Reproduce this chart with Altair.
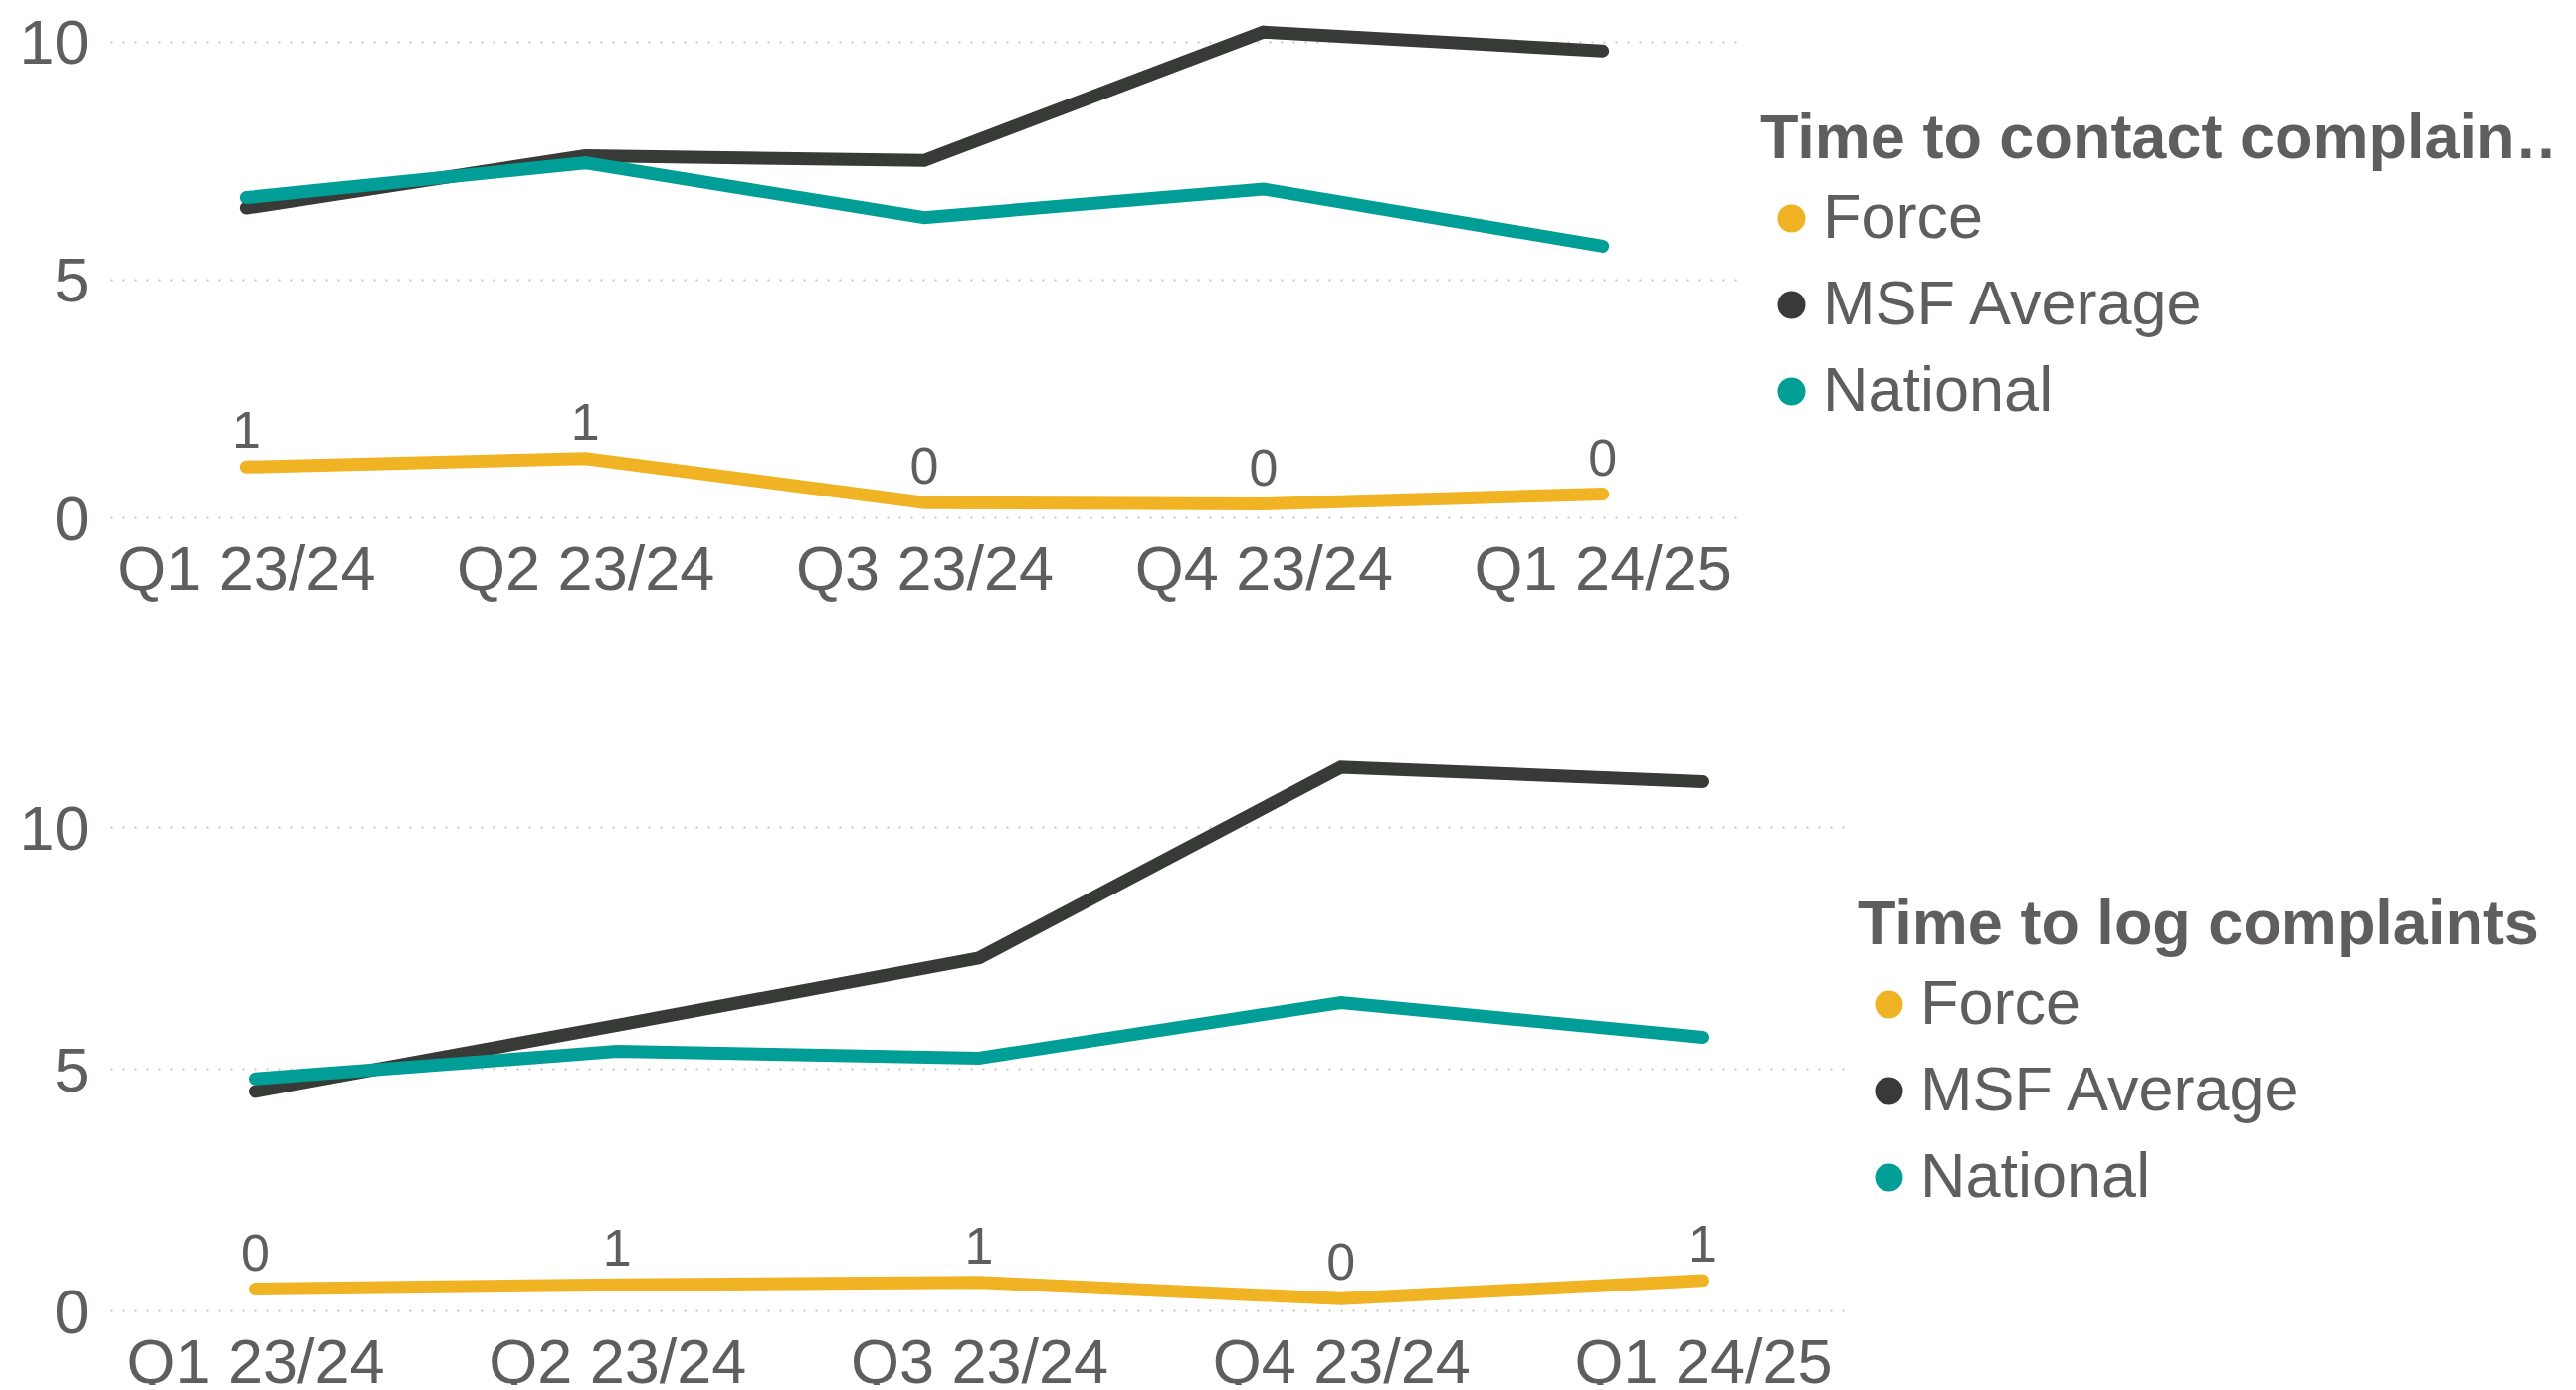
import altair as alt
import pandas as pd

FONT = "Liberation Sans"
GRAY = "#605E5C"

quarters = ["Q1 23/24", "Q2 23/24", "Q3 23/24", "Q4 23/24", "Q1 24/25"]
series_names = ["Force", "MSF Average", "National"]
series_colors = ["#F0B323", "#373A36", "#009E96"]

# Time to contact complainants
contact_force = [1.06, 1.24, 0.31, 0.28, 0.49]
contact_msf = [6.5, 7.6, 7.5, 10.2, 9.8]
contact_national = [6.72, 7.45, 6.3, 6.9, 5.7]
contact_labels = ["1", "1", "0", "0", "0"]

# Time to log complaints
log_force = [0.44, 0.53, 0.58, 0.24, 0.62]
log_msf = [4.53, 5.9, 7.29, 11.24, 10.94]
log_national = [4.79, 5.36, 5.22, 6.37, 5.65]
log_labels = ["0", "1", "1", "0", "1"]


def build_df(force, msf, national, labels):
    rows = []
    for i, q in enumerate(quarters):
        rows.append(dict(quarter=q, idx=i, series="Force", value=force[i], label=labels[i]))
        rows.append(dict(quarter=q, idx=i, series="MSF Average", value=msf[i], label=""))
        rows.append(dict(quarter=q, idx=i, series="National", value=national[i], label=""))
    return pd.DataFrame(rows)


def panel(df, width, height, ymax, title, lx, ly, tlimit):
    x = alt.X(
        "quarter:N",
        sort=quarters,
        scale=alt.Scale(type="point", padding=0.4),
        axis=alt.Axis(
            title=None, labelAngle=0, labelFontSize=63, labelFont=FONT,
            labelColor=GRAY, labelPadding=22, labelLimit=1000, ticks=False,
            domain=False, grid=False,
        ),
    )
    y = alt.Y(
        "value:Q",
        scale=alt.Scale(domain=[0, ymax], nice=False, zero=True),
        axis=alt.Axis(
            title=None, values=[0, 5, 10], labelFontSize=63, labelFont=FONT,
            labelColor=GRAY, labelPadding=22, labelOffset=3, ticks=False, domain=False,
            grid=True, gridColor="#C8C6C4", gridDash=[2, 10], gridWidth=2,
        ),
    )
    legend = alt.Legend(
        title=title, orient="none", legendX=lx, legendY=ly, padding=0,
        titleFont=FONT, titleFontSize=63, titleFontWeight="bold", titleColor=GRAY,
        titleLimit=tlimit, titlePadding=16,
        labelFont=FONT, labelFontSize=63, labelColor=GRAY, labelLimit=1200,
        labelOffset=0, symbolOffset=0, rowPadding=23,
        symbolType="circle", symbolSize=784, symbolStrokeWidth=0, symbolOpacity=1,
    )
    color = alt.Color(
        "series:N",
        scale=alt.Scale(domain=series_names, range=series_colors),
        legend=legend,
    )
    # legend carrier: filled circles, no data drawn (all rows filtered out)
    keys = alt.Chart(df).transform_filter("datum.value < -1000").mark_circle(opacity=1).encode(
        x=x, y=y, color=color
    )
    lines = alt.Chart(df).mark_line(strokeWidth=13, strokeCap="round").encode(
        x=x, y=y, color=color, order="idx:Q"
    )
    text = alt.Chart(df).transform_filter(alt.datum.series == "Force").mark_text(
        font=FONT, fontSize=52, color=GRAY, align="center", baseline="alphabetic", dy=-19
    ).encode(x=x, y=y, text="label:N")
    return alt.layer(keys, lines, text).properties(width=width, height=height)


top = panel(build_df(contact_force, contact_msf, contact_national, contact_labels),
            1636, 507, 10.6, "Time to contact complainants", 1658, 96, 840)
bottom = panel(build_df(log_force, log_msf, log_national, log_labels),
               1746, 583, 12.0, "Time to log complaints", 1756, 165, 1200)

chart = (
    alt.vconcat(top, bottom, spacing=129)
    .resolve_scale(color="independent")
    .resolve_legend(color="independent")
    .properties(padding={"left": 10, "top": -2, "right": -20, "bottom": -10}, background="white")
    .configure_view(stroke=None)
)

chart.save("out.html", embed_options={"renderer": "svg", "actions": False})
